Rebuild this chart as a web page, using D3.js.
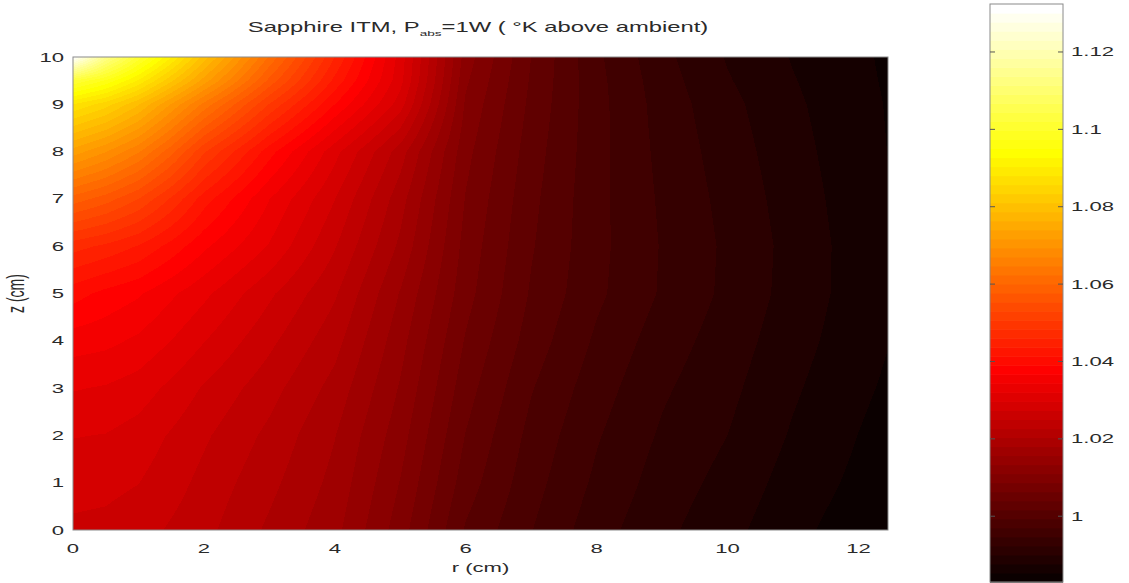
<!DOCTYPE html>
<html>
<head>
<meta charset="utf-8">
<script src="https://cdn.jsdelivr.net/npm/d3@7"></script>
<style>
  html, body { margin: 0; padding: 0; background: #fff; }
  svg { display: block; }
  text { font-family: "Liberation Sans", Arial, Helvetica, sans-serif; fill: #2a2a2a; }
</style>
</head>
<body>
<svg id="chart" width="1129" height="583"></svg>
<script>
// Temperature rise above ambient (K) in a sapphire test mass, 1 W absorbed.
// Grid nodes: radius r (cm) along columns, depth z (cm) along rows.
const rValues = [0, 0.5, 1, 1.5, 2, 3, 4, 5, 6, 7, 8, 9, 10, 11, 12, 12.45];
const zValues = [0, 1, 2, 3, 4, 5, 6, 7, 8, 9, 9.5, 10];

// one row per zValues entry, one column per rValues entry
const temperature = [
  [1.0269, 1.0267, 1.0260, 1.0247, 1.0234, 1.0199, 1.0164, 1.0098, 1.0014, 0.9971, 0.9933, 0.9906, 0.9884, 0.9860, 0.9841, 0.9830],
  [1.0282, 1.0280, 1.0274, 1.0260, 1.0243, 1.0210, 1.0173, 1.0109, 1.0028, 0.9979, 0.9942, 0.9913, 0.9892, 0.9867, 0.9848, 0.9840],
  [1.0298, 1.0296, 1.0287, 1.0271, 1.0254, 1.0221, 1.0181, 1.0120, 1.0039, 0.9986, 0.9949, 0.9920, 0.9900, 0.9874, 0.9853, 0.9845],
  [1.0322, 1.0318, 1.0309, 1.0291, 1.0271, 1.0236, 1.0195, 1.0131, 1.0050, 0.9995, 0.9957, 0.9927, 0.9906, 0.9880, 0.9858, 0.9850],
  [1.0355, 1.0350, 1.0339, 1.0320, 1.0298, 1.0256, 1.0212, 1.0142, 1.0061, 1.0006, 0.9966, 0.9935, 0.9912, 0.9886, 0.9863, 0.9854],
  [1.0400, 1.0383, 1.0370, 1.0348, 1.0326, 1.0278, 1.0230, 1.0155, 1.0072, 1.0014, 0.9975, 0.9944, 0.9918, 0.9891, 0.9866, 0.9857],
  [1.0470, 1.0455, 1.0435, 1.0405, 1.0372, 1.0318, 1.0252, 1.0175, 1.0078, 1.0019, 0.9977, 0.9945, 0.9919, 0.9892, 0.9866, 0.9857],
  [1.0590, 1.0565, 1.0530, 1.0480, 1.0425, 1.0344, 1.0274, 1.0190, 1.0085, 1.0023, 0.9977, 0.9943, 0.9916, 0.9889, 0.9864, 0.9855],
  [1.0730, 1.0695, 1.0650, 1.0585, 1.0510, 1.0400, 1.0305, 1.0215, 1.0094, 1.0028, 0.9978, 0.9940, 0.9912, 0.9885, 0.9862, 0.9853],
  [1.0880, 1.0845, 1.0790, 1.0715, 1.0640, 1.0505, 1.0390, 1.0285, 1.0106, 1.0034, 0.9978, 0.9937, 0.9907, 0.9881, 0.9860, 0.9852],
  [1.1020, 1.0970, 1.0900, 1.0815, 1.0730, 1.0570, 1.0430, 1.0305, 1.0114, 1.0037, 0.9977, 0.9934, 0.9902, 0.9878, 0.9858, 0.9851],
  [1.1324, 1.1140, 1.1010, 1.0905, 1.0800, 1.0620, 1.0460, 1.0310, 1.0122, 1.0040, 0.9975, 0.9930, 0.9898, 0.9875, 0.9857, 0.9850]
];

const xTicks = [0, 2, 4, 6, 8, 10, 12];
const yTicks = [0, 1, 2, 3, 4, 5, 6, 7, 8, 9, 10];
const colorTicks = [1, 1.02, 1.04, 1.06, 1.08, 1.1, 1.12];

const titleMain = "Sapphire ITM, P";
const titleSub = "abs";
const titleRest = "=1W ( \u00B0K above ambient)";
const xLabel = "r (cm)";
const yLabel = "z (cm)";

// ---------------------------------------------------------------
const svg = d3.select("#chart");
const plot = { left: 73, right: 888, top: 57, bottom: 530 };
const bar = { left: 990, right: 1063, top: 4, bottom: 582 };
const SX = 1.7;           // horizontal stretch of the lettering
const FS = 13;            // tick label size

const x = d3.scaleLinear().domain([0, rValues[rValues.length - 1]]).range([plot.left, plot.right]);
const y = d3.scaleLinear().domain([0, zValues[zValues.length - 1]]).range([plot.bottom, plot.top]);

const allT = temperature.flat();
const tMin = d3.min(allT), tMax = d3.max(allT);

// "hot" colormap, 64 discrete levels
const NLEV = 64;
function hotColor(i) {
  const n = Math.floor(3 / 8 * NLEV);
  const r = i < n ? (i + 1) / n : 1;
  const g = i < n ? 0 : (i < 2 * n ? (i - n + 1) / n : 1);
  const b = i < 2 * n ? 0 : (i - 2 * n + 1) / (NLEV - 2 * n);
  return [Math.round(r * 255), Math.round(g * 255), Math.round(b * 255)];
}
const level = d3.scaleQuantize().domain([tMin, tMax]).range(d3.range(NLEV));
const colorOf = v => hotColor(level(Math.max(tMin, Math.min(tMax, v))));

// bilinear interpolation between grid nodes (interpolated shading)
function cellPos(arr, v) {
  let i = d3.bisectRight(arr, v) - 1;
  i = Math.max(0, Math.min(arr.length - 2, i));
  const f = (v - arr[i]) / (arr[i + 1] - arr[i]);
  return [i, Math.max(0, Math.min(1, f))];
}
function tempAt(r, z) {
  const [i, fr] = cellPos(rValues, r);
  const [j, fz] = cellPos(zValues, z);
  const a = temperature[j][i], b = temperature[j][i + 1];
  const c = temperature[j + 1][i], d = temperature[j + 1][i + 1];
  return (a * (1 - fr) + b * fr) * (1 - fz) + (c * (1 - fr) + d * fr) * fz;
}

// raster of the field
const W = plot.right - plot.left, H = plot.bottom - plot.top;
const cv = document.createElement("canvas");
cv.width = W; cv.height = H;
const ctx = cv.getContext("2d");
const img = ctx.createImageData(W, H);
for (let py = 0; py < H; py++) {
  const z = y.invert(plot.top + py + 0.5);
  for (let px = 0; px < W; px++) {
    const r = x.invert(plot.left + px + 0.5);
    const [cr, cg, cb] = colorOf(tempAt(r, z));
    const k = (py * W + px) * 4;
    img.data[k] = cr; img.data[k + 1] = cg; img.data[k + 2] = cb; img.data[k + 3] = 255;
  }
}
ctx.putImageData(img, 0, 0);

svg.append("image")
  .attr("x", plot.left).attr("y", plot.top)
  .attr("width", W).attr("height", H)
  .attr("preserveAspectRatio", "none")
  .attr("href", cv.toDataURL());

svg.append("rect")
  .attr("x", plot.left).attr("y", plot.top)
  .attr("width", W).attr("height", H)
  .attr("fill", "none").attr("stroke", "#8a8a8a").attr("stroke-width", 1);

// stretched label helper
function label(g, px, py, txt, anchor, size) {
  return g.append("text")
    .attr("transform", `translate(${px},${py}) scale(${SX},1)`)
    .attr("text-anchor", anchor)
    .attr("font-size", size)
    .text(txt);
}

// x axis labels
const gx = svg.append("g");
xTicks.forEach(t => label(gx, x(t), 553, String(t), "middle", FS));
label(gx, (plot.left + plot.right) / 2, 572, xLabel, "middle", FS);

// y axis labels
const gy = svg.append("g");
yTicks.forEach(t => label(gy, 64, y(t) + 4.5, String(t), "end", FS));
gy.append("text")
  .attr("transform", `translate(24,${(plot.top + plot.bottom) / 2}) scale(${SX},1) rotate(-90)`)
  .attr("text-anchor", "middle")
  .attr("font-size", 14)
  .text(yLabel);

// title
const tt = svg.append("text")
  .attr("transform", `translate(478,32) scale(${SX},1)`)
  .attr("text-anchor", "middle")
  .attr("font-size", 14);
tt.append("tspan").text(titleMain);
tt.append("tspan").attr("font-size", 8).attr("dy", 4).text(titleSub);
tt.append("tspan").attr("dy", -4).text(titleRest);

// colour bar
const cy = d3.scaleLinear().domain([tMin, tMax]).range([bar.bottom, bar.top]);
const levels = d3.range(NLEV);
const step = (tMax - tMin) / NLEV;
svg.append("g").selectAll("rect").data(levels).join("rect")
  .attr("x", bar.left)
  .attr("width", bar.right - bar.left)
  .attr("y", d => cy(tMin + (d + 1) * step))
  .attr("height", d => cy(tMin + d * step) - cy(tMin + (d + 1) * step) + 0.6)
  .attr("fill", d => { const c = hotColor(d); return `rgb(${c[0]},${c[1]},${c[2]})`; });

svg.append("rect")
  .attr("x", bar.left).attr("y", bar.top)
  .attr("width", bar.right - bar.left).attr("height", bar.bottom - bar.top)
  .attr("fill", "none").attr("stroke", "#8a8a8a").attr("stroke-width", 1);

const gc = svg.append("g");
colorTicks.forEach(t => {
  gc.append("line").attr("x1", bar.left).attr("x2", bar.left + 5)
    .attr("y1", cy(t)).attr("y2", cy(t)).attr("stroke", "#555");
  gc.append("line").attr("x1", bar.right - 5).attr("x2", bar.right)
    .attr("y1", cy(t)).attr("y2", cy(t)).attr("stroke", "#555");
  label(gc, 1071, cy(t) + 4.5, String(t), "start", FS);
});
</script>
</body>
</html>
